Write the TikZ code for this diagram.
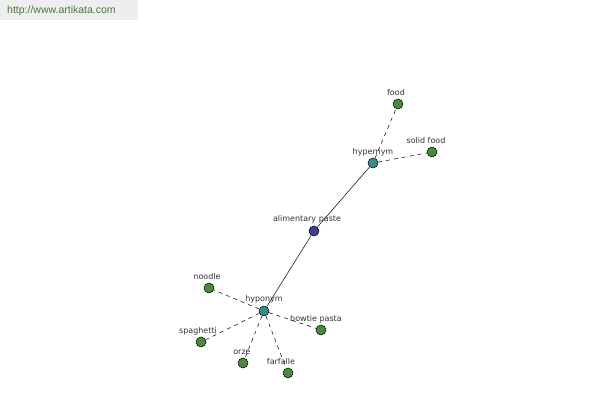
\documentclass[tikz,border=0pt]{standalone}
\usepackage{fontspec}
\setmainfont{Liberation Sans}
\newfontfamily\labfont{DejaVu Sans}
\definecolor{leafc}{HTML}{4A8A3E}
\definecolor{relc}{HTML}{3A8C8C}
\definecolor{rootc}{HTML}{3C3F8C}
\definecolor{hdrbg}{HTML}{EEEEEE}
\definecolor{hdrtx}{HTML}{4A7A3A}
\definecolor{lbl}{HTML}{333333}
\begin{document}
\begin{tikzpicture}[x=1pt,y=-1pt,
  dot/.style={circle,draw=black,line width=0.5pt,minimum size=10pt,inner sep=0pt},
  leaf/.style={dot,fill=leafc},
  rel/.style={dot,fill=relc},
  root/.style={dot,fill=rootc},
  lab/.style={font=\labfont\fontsize{8}{9}\selectfont,text=lbl,inner sep=0pt},
  dashedge/.style={dashed,dash pattern=on 4pt off 4pt,line width=0.5pt},
  solidedge/.style={line width=0.5pt}]
\useasboundingbox (0,0) rectangle (600,400);
\fill[white] (0,0) rectangle (600,400);
\node[fill=hdrbg,minimum width=138pt,minimum height=20pt,anchor=north west,inner sep=0pt] (hdr) at (0,0) {};
\node[anchor=west,font=\fontsize{10.5}{12}\selectfont,text=hdrtx,inner sep=0pt] (hdrt) at (7,11) {http://www.artikata.com};

\node[root] (ap) at (314,231) {};
\node[rel] (hyper) at (373,163) {};
\node[rel] (hypo) at (264,311) {};
\node[leaf] (food) at (398,104) {};
\node[leaf] (solid) at (432,152) {};
\node[leaf] (noodle) at (209,288) {};
\node[leaf] (bowtie) at (321,330) {};
\node[leaf] (spag) at (201,342) {};
\node[leaf] (orze) at (243,363) {};
\node[leaf] (farf) at (288,373) {};

\draw[solidedge] (ap) -- (hyper);
\draw[solidedge] (ap) -- (hypo);
\draw[dashedge] (hyper) -- (food);
\draw[dashedge] (hyper) -- (solid);
\draw[dashedge] (hypo) -- (noodle);
\draw[dashedge] (hypo) -- (bowtie);
\draw[dashedge] (hypo) -- (spag);
\draw[dashedge] (hypo) -- (orze);
\draw[dashedge] (hypo) -- (farf);

\node[lab] (lfood) at (396,93) {food};
\node[lab] (lsolid) at (426,141) {solid food};
\node[lab] (lhyper) at (373,152) {hypernym};
\node[lab] (lap) at (307,219) {alimentary paste};
\node[lab] (lnoodle) at (207,277) {noodle};
\node[lab] (lhypo) at (264,299) {hyponym};
\node[lab] (lbowtie) at (316,319) {bowtie pasta};
\node[lab] (lspag) at (198,331) {spaghetti};
\node[lab] (lorze) at (242,352) {orze};
\node[lab] (lfarf) at (281,362) {farfalle};
\end{tikzpicture}
\end{document}
